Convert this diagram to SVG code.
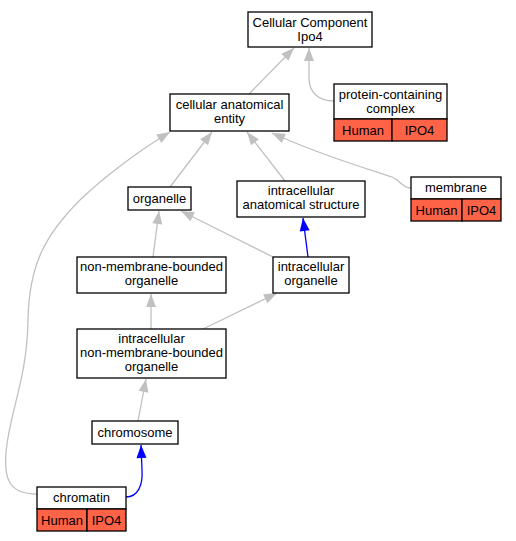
<svg xmlns="http://www.w3.org/2000/svg" width="516" height="541" viewBox="0 0 516 541">
<style>
.box{fill:#ffffff;stroke:#000000;stroke-width:1.3}
.org{fill:#ff6347;stroke:#000000;stroke-width:1.3}
text{font-family:"Liberation Sans",Arial,sans-serif;font-size:13px;text-anchor:middle;fill:#000000}
.e{fill:none;stroke:#c0c0c0;stroke-width:1.3;marker-end:url(#ag)}
.b{fill:none;stroke:#0000ff;stroke-width:1.3;marker-end:url(#ab)}
</style>
<defs>
<marker id="ag" markerUnits="userSpaceOnUse" markerWidth="14" markerHeight="11" refX="13" refY="5" orient="auto" viewBox="0 0 14 10" overflow="visible">
<path d="M0,0 L13,5 L0,10 z" fill="#c0c0c0"/>
</marker>
<marker id="ab" markerUnits="userSpaceOnUse" markerWidth="14" markerHeight="11" refX="13" refY="5" orient="auto" viewBox="0 0 14 10" overflow="visible">
<path d="M0,0 L13,5 L0,10 z" fill="#0000ff"/>
</marker>
</defs>
<rect width="516" height="541" fill="#ffffff"/>
<g id="edges">
<path class="e" d="M249,94 L294,48"/>
<path class="e" d="M334,101 C318,101 309,92 309,78 L309,48"/>
<path class="e" d="M170,187 L212,132"/>
<path class="e" d="M285,181 L247,132"/>
<path class="e" d="M411,188 C402,188 400,180 392,177 C365,168 320,155 272,133"/>
<path class="e" d="M37,494 C8,494 4,478 6,452 C10,410 27,380 28,320 C29,265 45,235 80,200 C105,176 140,150 170,132"/>
<path class="e" d="M153,257 L159,211"/>
<path class="e" d="M273,257 L181,211"/>
<path class="b" d="M308,257 L303,218"/>
<path class="e" d="M151,329 L151,294"/>
<path class="e" d="M203,329 L277,293"/>
<path class="e" d="M138,421 L146,379"/>
<path class="b" d="M126,497 C138,497 143,485 142,470 L141,445"/>
</g>
<g id="cc">
<rect class="box" x="248" y="12" width="124" height="35"/>
<text x="310" y="27">Cellular Component</text>
<text x="310" y="41">Ipo4</text>
</g>
<g id="pcc">
<rect class="box" x="334" y="84" width="113" height="35"/>
<rect class="org" x="334" y="119" width="58" height="22"/>
<rect class="org" x="392" y="119" width="55" height="22"/>
<text x="390.5" y="99">protein-containing</text>
<text x="390.5" y="113">complex</text>
<text x="363" y="135">Human</text>
<text x="419.5" y="135">IPO4</text>
</g>
<g id="cae">
<rect class="box" x="170" y="94" width="119" height="37"/>
<text x="229.5" y="109">cellular anatomical</text>
<text x="229.5" y="123">entity</text>
</g>
<g id="organelle">
<rect class="box" x="128" y="187" width="63" height="23"/>
<text x="159.5" y="203">organelle</text>
</g>
<g id="ias">
<rect class="box" x="237" y="181" width="128" height="36"/>
<text x="301" y="195">intracellular</text>
<text x="301" y="209">anatomical structure</text>
</g>
<g id="membrane">
<rect class="box" x="411" y="177" width="90" height="22"/>
<rect class="org" x="411" y="199" width="51" height="22"/>
<rect class="org" x="462" y="199" width="39" height="22"/>
<text x="456" y="192">membrane</text>
<text x="436.5" y="215">Human</text>
<text x="481.5" y="215">IPO4</text>
</g>
<g id="nmbo">
<rect class="box" x="77" y="257" width="149" height="36"/>
<text x="151.5" y="271">non-membrane-bounded</text>
<text x="151.5" y="285">organelle</text>
</g>
<g id="io">
<rect class="box" x="273" y="257" width="76" height="36"/>
<text x="311" y="271">intracellular</text>
<text x="311" y="285">organelle</text>
</g>
<g id="inmbo">
<rect class="box" x="77" y="329" width="149" height="49"/>
<text x="151.5" y="343">intracellular</text>
<text x="151.5" y="357">non-membrane-bounded</text>
<text x="151.5" y="371">organelle</text>
</g>
<g id="chromosome">
<rect class="box" x="92" y="421" width="86" height="23"/>
<text x="135" y="437">chromosome</text>
</g>
<g id="chromatin">
<rect class="box" x="37" y="487" width="89" height="22"/>
<rect class="org" x="37" y="509" width="50" height="22"/>
<rect class="org" x="87" y="509" width="39" height="22"/>
<text x="81.5" y="502">chromatin</text>
<text x="62" y="525">Human</text>
<text x="106.5" y="525">IPO4</text>
</g>
</svg>
